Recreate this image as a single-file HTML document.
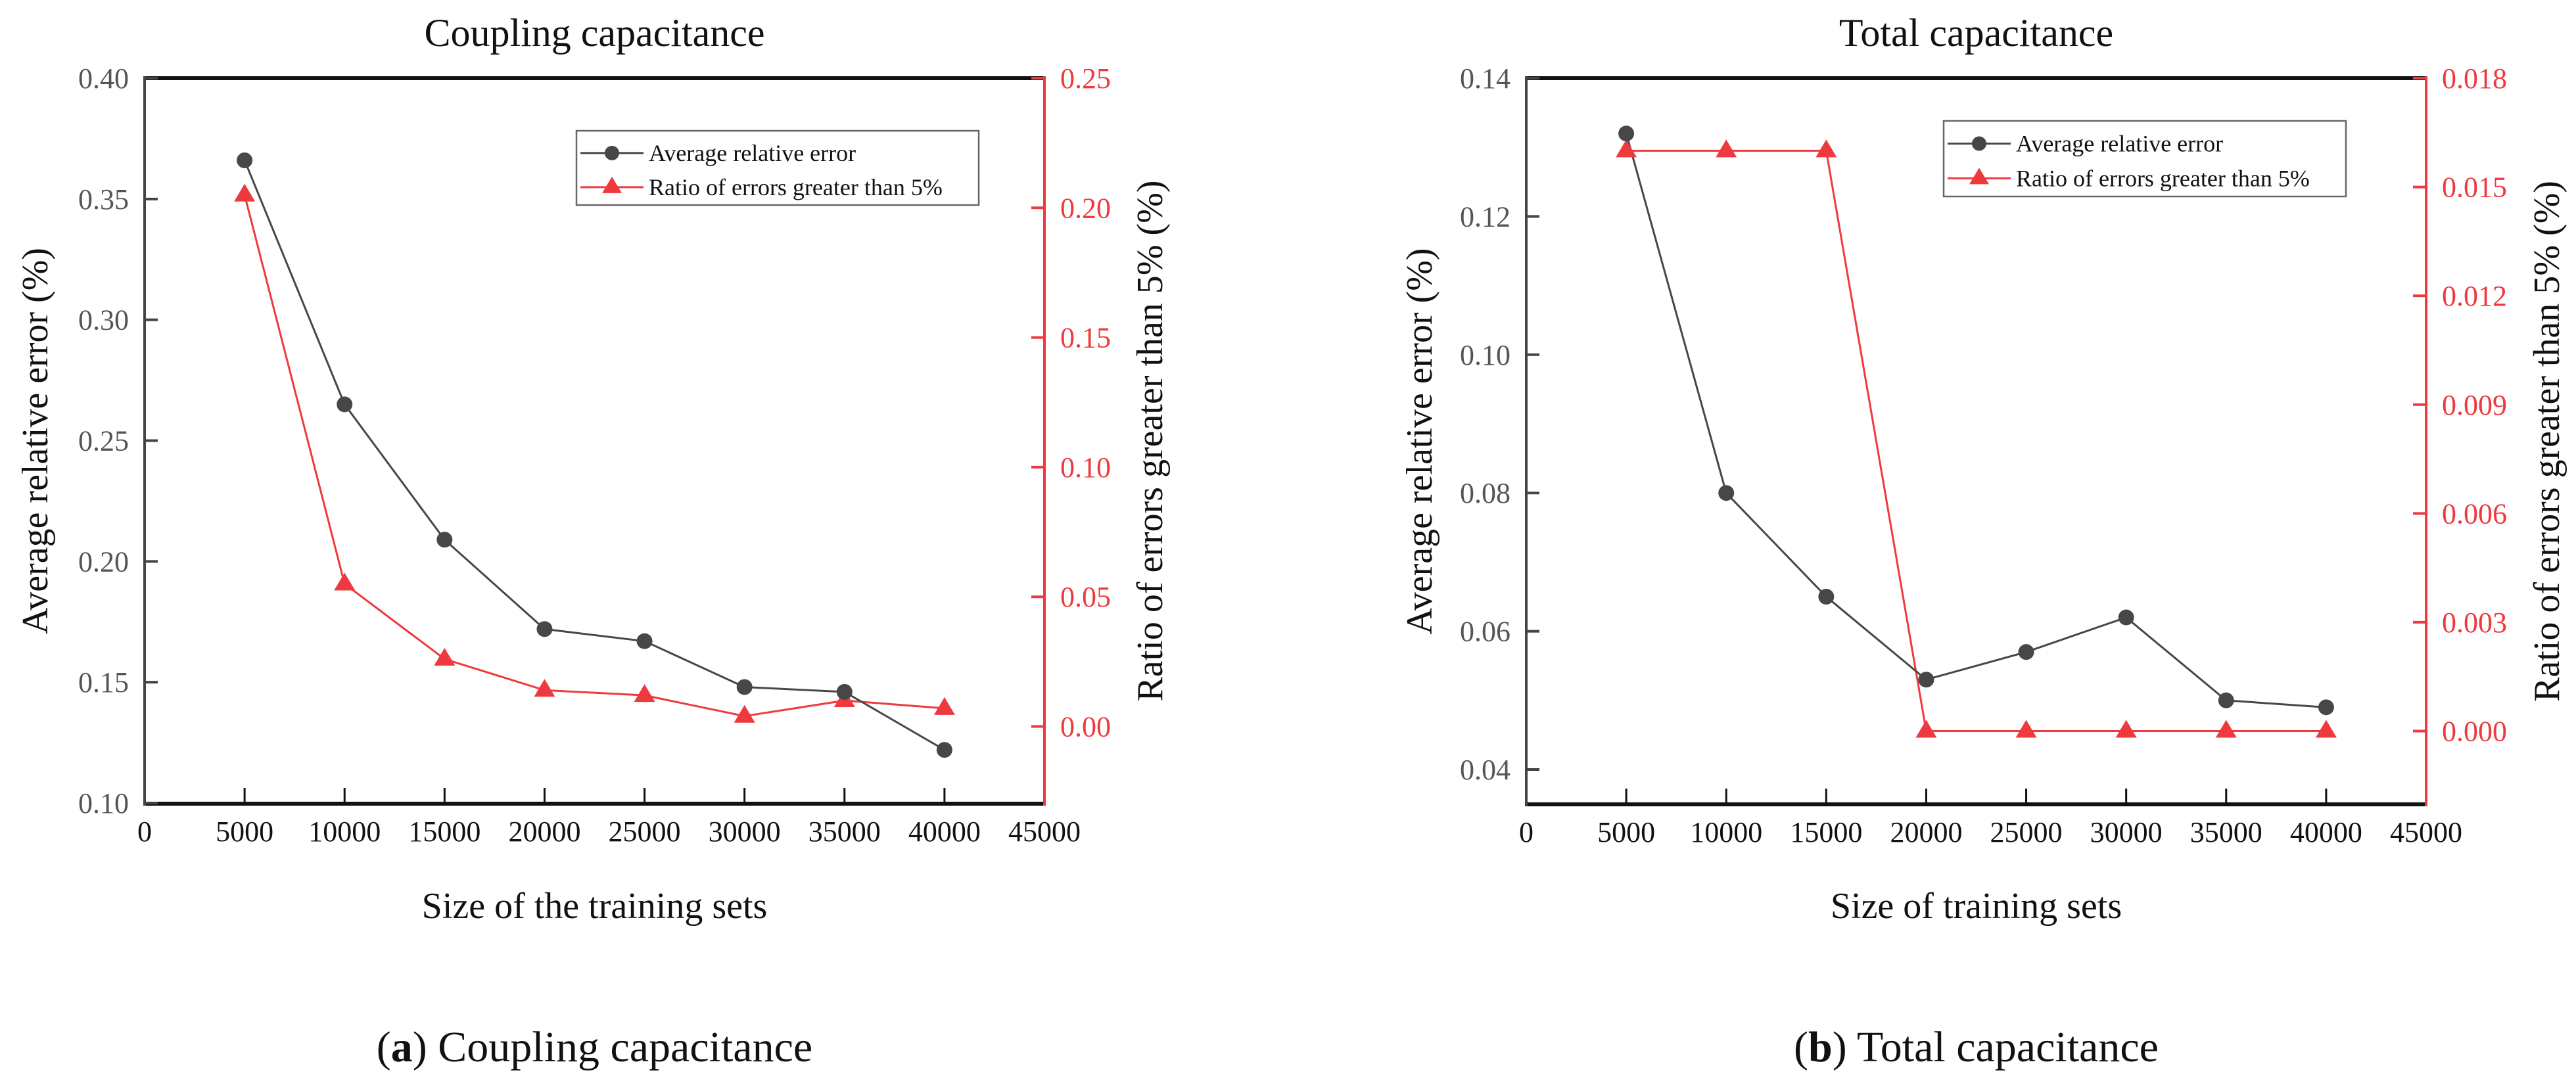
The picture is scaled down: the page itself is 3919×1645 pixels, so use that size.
<!DOCTYPE html>
<html><head><meta charset="utf-8"><style>
html,body{margin:0;padding:0;background:#fff;}
svg{display:block;font-family:"Liberation Serif",serif;}
</style></head><body>
<svg id="fig" width="3919" height="1645" viewBox="0 0 3919 1645" xmlns="http://www.w3.org/2000/svg"></svg>
<script>
const xCats = [5000,10000,15000,20000,25000,30000,35000,40000];
const xTicks = [0,5000,10000,15000,20000,25000,30000,35000,40000,45000];
const aAvg = [0.366,0.265,0.209,0.172,0.167,0.148,0.146,0.122];
const aRatio = [0.205,0.055,0.026,0.014,0.012,0.004,0.010,0.007];
const aLeftTicks = [0.10,0.15,0.20,0.25,0.30,0.35,0.40];
const aRightTicks = [0.00,0.05,0.10,0.15,0.20,0.25];
const bAvg = [0.132,0.080,0.065,0.053,0.057,0.062,0.050,0.049];
const bRatio = [0.016,0.016,0.016,0,0,0,0,0];
const bLeftTicks = [0.04,0.06,0.08,0.10,0.12,0.14];
const bRightTicks = [0.000,0.003,0.006,0.009,0.012,0.015,0.018];

const NS="http://www.w3.org/2000/svg";
const svg=document.getElementById('fig');
function mk(tag,attrs,parent,text){const e=document.createElementNS(NS,tag);for(const k in attrs)e.setAttribute(k,attrs[k]);if(text!==undefined)e.textContent=text;(parent||svg).appendChild(e);return e;}
const RED="#ee3a3f", DARK="#474747";

function panel(cfg){
  const g=mk('g',{});
  
  
  const X=v=>cfg.x0+(v-0)/45000*(cfg.x1-cfg.x0);
  const YL=v=>cfg.yTop+(cfg.lMax-v)/(cfg.lMax-cfg.lMin)*(cfg.yL0-cfg.yTop);
  const YR=v=>cfg.yTop+(cfg.rMax-v)/(cfg.rMax-cfg.rMin)*(cfg.yR0-cfg.yTop);
  // title
  let t=mk('text',{x:(cfg.x0+cfg.x1)/2,y:70,'font-size':60,'text-anchor':'middle',fill:'#111'},g,cfg.title);
  
  
  // axes
  let a=mk('line',{x1:cfg.x0,y1:cfg.yTop,x2:cfg.x1,y2:cfg.yTop,stroke:'#111','stroke-width':6},g);
  
  
  a=mk('line',{x1:cfg.x0,y1:cfg.yBot,x2:cfg.x1,y2:cfg.yBot,stroke:'#111','stroke-width':6},g);
  
  
  a=mk('line',{x1:cfg.x0,y1:cfg.yTop-3,x2:cfg.x0,y2:cfg.yBot+3,stroke:'#444','stroke-width':4},g);
  
  
  a=mk('line',{x1:cfg.x1,y1:cfg.yTop-3,x2:cfg.x1,y2:cfg.yBot+3,stroke:RED,'stroke-width':4},g);
  
  
  // x ticks
  xTicks.forEach(v=>{
    const x=X(v);
    if(v>0&&v<45000){const tk=mk('line',{x1:x,y1:cfg.yBot,x2:x,y2:cfg.yBot-24,stroke:'#111','stroke-width':3},g);
      
      }
    const l=mk('text',{x:x,y:cfg.yBot+57,'font-size':44,'text-anchor':'middle',fill:'#111'},g,String(v));
    
    
  });
  cfg.lTicks.forEach(v=>{
    const y=YL(v);
    const tk=mk('line',{x1:cfg.x0,y1:y,x2:cfg.x0+20,y2:y,stroke:'#444','stroke-width':4},g);
    
    
    const l=mk('text',{x:cfg.x0-24,y:y+15,'font-size':44,'text-anchor':'end',fill:'#555'},g,v.toFixed(2));
    
    
  });
  cfg.rTicks.forEach(v=>{
    const y=YR(v);
    const tk=mk('line',{x1:cfg.x1,y1:y,x2:cfg.x1-20,y2:y,stroke:RED,'stroke-width':4},g);
    
    
    const l=mk('text',{x:cfg.x1+24,y:y+15,'font-size':44,'text-anchor':'start',fill:RED},g,v.toFixed(cfg.rDec));
    
    
  });
  // axis titles
  const cy=(cfg.yTop+cfg.yBot)/2;
  t=mk('text',{x:0,y:0,'font-size':56,'text-anchor':'middle',fill:'#111',transform:`translate(${cfg.lTitleX},${cy}) rotate(-90)`},g,'Average relative error (%)');
  
  
  t=mk('text',{x:0,y:0,'font-size':56,'text-anchor':'middle',fill:'#111',transform:`translate(${cfg.rTitleX},${cy}) rotate(-90)`},g,'Ratio of errors greater than 5% (%)');
  
  
  t=mk('text',{x:(cfg.x0+cfg.x1)/2,y:1397,'font-size':56,'text-anchor':'middle',fill:'#111'},g,cfg.xTitle);
  
  
  // caption
  t=mk('text',{x:(cfg.x0+cfg.x1)/2,y:1615,'font-size':66,'text-anchor':'middle',fill:'#111'},g);
  
  
  mk('tspan',{},t,'(');mk('tspan',{'font-weight':'bold'},t,cfg.letter);mk('tspan',{},t,') '+cfg.title);
  // series
  const pr=cfg.ratio.map((v,i)=>X(xCats[i])+','+YR(v)).join(' ');
  let p=mk('polyline',{points:pr,fill:'none',stroke:RED,'stroke-width':3},g);
  
  
  const pa=cfg.avg.map((v,i)=>X(xCats[i])+','+YL(v)).join(' ');
  p=mk('polyline',{points:pa,fill:'none',stroke:DARK,'stroke-width':3},g);
  
  
  cfg.ratio.forEach((v,i)=>{const x=X(xCats[i]),y=YR(v);
    const m=mk('polygon',{points:`${x},${y-17} ${x-16},${y+10} ${x+16},${y+10}`,fill:RED},g);
    
    });
  cfg.avg.forEach((v,i)=>{
    const m=mk('circle',{cx:X(xCats[i]),cy:YL(v),r:12,fill:DARK},g);
    
    });
  // legend
  const L=cfg.leg;
  const lg=mk('g',{},g);
  
  
  mk('rect',{x:L.x,y:L.y,width:L.w,height:L.h,fill:'#fff',stroke:'#666','stroke-width':2.5},lg);
  const r1=L.y+L.h*0.3, r2=L.y+L.h*0.76;
  let e=mk('g',{},lg);
  
  
  mk('line',{x1:L.x+6,y1:r1,x2:L.x+102,y2:r1,stroke:DARK,'stroke-width':3},e);
  mk('circle',{cx:L.x+54,cy:r1,r:11,fill:DARK},e);
  mk('text',{x:L.x+110,y:r1+12,'font-size':36,fill:'#111'},e,'Average relative error');
  e=mk('g',{},lg);
  
  
  mk('line',{x1:L.x+6,y1:r2,x2:L.x+102,y2:r2,stroke:RED,'stroke-width':3},e);
  mk('polygon',{points:`${L.x+54},${r2-16} ${L.x+39},${r2+9} ${L.x+69},${r2+9}`,fill:RED},e);
  mk('text',{x:L.x+110,y:r2+12,'font-size':36,fill:'#111'},e,'Ratio of errors greater than 5%');
}

panel({id:'coupling',title:'Coupling capacitance',letter:'a',xTitle:'Size of the training sets',
  x0:220,x1:1589,yTop:119,yBot:1223,yL0:1222,lMax:0.40,lMin:0.10,yR0:1105.5,rMax:0.25,rMin:0.00,rDec:2,
  lTicks:aLeftTicks,rTicks:aRightTicks,avg:aAvg,ratio:aRatio,lTitleX:72,rTitleX:1768,
  leg:{x:877,y:199,w:612,h:113}});
panel({id:'total',title:'Total capacitance',letter:'b',xTitle:'Size of training sets',
  x0:2322,x1:3691,yTop:119,yBot:1224,yL0:1171,lMax:0.14,lMin:0.04,yR0:1112.5,rMax:0.018,rMin:0.000,rDec:3,
  lTicks:bLeftTicks,rTicks:bRightTicks,avg:bAvg,ratio:bRatio,lTitleX:2178,rTitleX:3893,
  leg:{x:2957,y:184,w:612,h:115}});
</script>
</body></html>
